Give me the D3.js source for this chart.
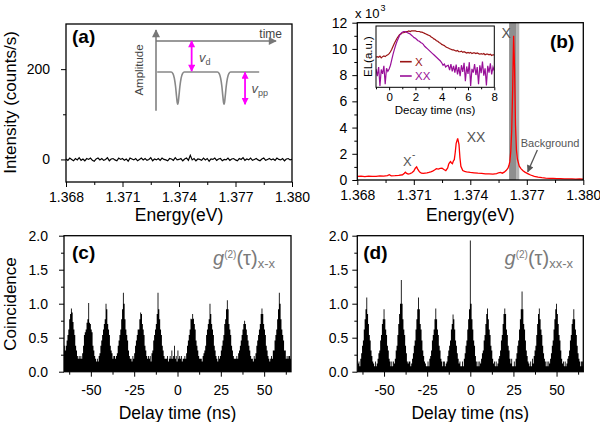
<!DOCTYPE html>
<html><head><meta charset="utf-8">
<script src="https://cdn.jsdelivr.net/npm/d3@7"></script>
<style>
html,body{margin:0;padding:0;background:#fff;}
svg{display:block;}
</style></head><body>
<svg id="chart" width="600" height="422"></svg>
<script>
// ---------------- DATA ----------------
const energyTicks = [1.368, 1.371, 1.374, 1.377, 1.380];
const energyMinor = [1.3695, 1.3725, 1.3755, 1.3785];
const aYTicks = [0, 200];
const aYMinor = [100];
const aNoiseStart = 1.368, aNoiseStep = 0.0001;
const aNoise = [
 1,-2,3,0,-3,2,-1,4,-2,1,
 -3,2,0,3,-2,-4,1,3,-1,2,
 -2,0,4,-3,1,2,-1,-3,3,0,
 2,-2,1,-4,3,1,-1,2,-3,0,
 3,-1,2,-2,0,4,-3,1,-1,2,
 -2,3,0,-1,-3,2,1,-2,4,-1,
 0,2,-3,1,3,-2,9,-1,2,-3,
 1,0,-2,3,-1,2,-4,1,0,3,
 -2,1,2,-3,0,-1,3,-2,1,2,
 -1,-3,2,0,4,-2,1,-1,3,-2,
 0,2,-1,-3,1,3,-2,0,2,-1,
 1,-2,3,0,-1,2,-3,1,2,-1,
 0];
// schematic pulse (inset of a)
const schemT = [0.1,1.26,1.41,1.53,1.63,1.71,1.77,1.81,1.85,1.91,1.99,2.09,2.21,2.36,5.12,5.27,5.39,5.49,5.57,5.63,5.67,5.71,5.77,5.85,5.95,6.07,6.22,8.6];
const schemA = [0.48,0.48,0.46,0.40,0.30,0.18,0.10,0.08,0.10,0.18,0.30,0.40,0.46,0.48,0.48,0.46,0.40,0.30,0.18,0.10,0.08,0.10,0.18,0.30,0.40,0.46,0.48,0.48];
const schemTimeAxisLevel = 0.864;
const vdArrow = [2.97, 0.864, 0.49];
const vppArrow = [7.42, 0.475, 0.08];

// spectrum (b), intensity in 10^3 counts/s
const specE = [
 1.3680,1.3682,1.3684,1.3686,1.3688,1.3690,1.3692,1.3694,1.3696,1.3697,
 1.3698,1.3700,1.3702,1.3704,1.3705,1.37055,1.3706,1.3707,1.3708,1.3709,
 1.3710,1.37108,1.37115,1.3712,1.3713,1.3714,1.3715,1.3716,1.3717,1.3718,
 1.3719,1.3720,1.3721,1.3722,1.3723,1.3724,1.3725,1.3726,1.3727,1.3728,
 1.37285,1.3729,1.37295,1.3730,1.37305,1.3731,1.37315,1.3732,1.37325,1.37333,
 1.3734,1.37345,1.3735,1.3736,1.3737,1.3738,1.3740,1.3742,1.3744,1.3746,
 1.3748,1.3750,1.3752,1.3754,1.3755,1.3756,1.3757,1.3758,1.3759,1.3760,
 1.37605,1.3761,1.37615,1.3762,1.37625,1.3763,1.37635,1.3764,1.37645,1.3765,
 1.3766,1.3767,1.3768,1.3769,1.3770,1.3771,1.3772,1.3774,1.3776,1.3778,
 1.3780,1.3782,1.3784,1.3786,1.3788,1.3790,1.3792,1.3794,1.3796,1.3798,1.3800];
const specI = [
 0.27,0.30,0.26,0.29,0.28,0.27,0.31,0.29,0.33,0.40,
 0.32,0.33,0.36,0.40,0.52,0.60,0.52,0.45,0.48,0.55,
 0.68,0.90,1.00,0.85,0.62,0.52,0.50,0.53,0.55,0.58,
 0.62,0.68,0.76,0.86,0.83,0.88,0.90,0.80,0.72,0.92,
 1.20,1.32,1.40,1.30,1.25,1.45,1.55,2.10,2.80,3.18,
 2.70,1.70,1.05,0.72,0.66,0.62,0.58,0.55,0.52,0.50,
 0.47,0.46,0.45,0.48,0.55,0.58,0.52,0.60,0.72,0.90,
 1.10,1.40,2.20,3.80,7.00,11.0,8.50,4.20,2.30,1.60,
 1.05,0.85,0.70,0.60,0.52,0.45,0.38,0.28,0.22,0.18,
 0.15,0.13,0.12,0.10,0.11,0.09,0.08,0.09,0.07,0.08,0.06];
const bYTicks = [0, 2, 4, 6, 8, 10, 12];
const bYMinor = [1, 3, 5, 7, 9, 11];
const bandDark = [1.37606, 1.37646];
const bandLight = [1.37646, 1.37660];
const specLabels = [
 {text: "X", e: 1.37566, v: 10.8},
 {text: "XX", e: 1.37381, v: 2.9},
 {text: "X", e: 1.37043, v: 1.07},
 {text: "Background", e: 1.37668, v: 2.49}
];
const bgArrow = [[1.37756, 2.29], [1.37705, 0.63]];

// decay curves (inset of b), normalised EL
const decayStart = -1.0, decayStep = 0.1;
const decayX = [
 .49,.50,.49,.51,.48,.50,.51,.50,.52,.53,
 .55,.58,.62,.67,.72,.76,.80,.83,.86,.87,
 .89,.89,.90,.91,.91,.92,.91,.92,.92,.92,
 .92,.91,.91,.91,.90,.90,.89,.88,.87,.86,
 .85,.84,.82,.81,.79,.78,.76,.75,.73,.72,
 .70,.69,.68,.66,.65,.64,.63,.62,.61,.61,
 .60,.59,.60,.58,.58,.59,.57,.58,.57,.56,
 .57,.56,.57,.55,.56,.56,.55,.56,.55,.54,
 .55,.54,.55,.53,.54,.54,.53,.54,.52,.53,.53];
const decayXX = [
 .30,.18,.33,.02,.29,.22,.35,.05,.31,.26,
 .30,.36,.45,.54,.62,.69,.75,.80,.85,.88,
 .90,.91,.91,.90,.89,.88,.87,.85,.83,.81,
 .80,.78,.76,.75,.73,.72,.70,.67,.65,.63,
 .61,.59,.57,.55,.53,.51,.49,.47,.45,.43,
 .40,.36,.38,.33,.35,.36,.28,.38,.26,.35,
 .24,.37,.21,.33,.18,.36,.25,.40,.10,.34,
 .22,.41,.02,.30,.24,.38,.20,.33,.05,.36,
 .23,.42,.19,.31,.03,.35,.24,.39,.21,.33,.27];
const decayTicks = [0, 2, 4, 6, 8];
const decayMinor = [-1, 1, 3, 5, 7];
const decayLegend = ["X", "XX"];

// coincidence histograms (c) and (d), values x100, 0.5 ns bins
const delayTicks = [-50, -25, 0, 25, 50];
const delayMinor = [-62.5, -37.5, -12.5, 12.5, 37.5, 62.5];
const coinTicks = [0, 0.5, 1.0, 1.5, 2.0];
const coinMinor = [0.25, 0.75, 1.25, 1.75];
const histBin = 0.5;
const histCStart = -66.5;
const histC = [
 27,31,38,31,38,46,54,62,77,85,93,87,73,62,54,38,31,23,19,23,
 19,23,19,27,38,54,58,62,72,77,101,72,70,62,58,38,31,23,19,15,
 19,15,23,27,38,46,54,62,70,77,100,92,70,62,54,38,31,27,19,23,
 23,19,23,27,38,46,54,62,77,92,116,100,77,62,54,46,31,23,19,19,
 15,23,19,27,38,46,54,62,62,77,87,85,70,62,54,38,31,23,19,23,
 19,23,15,27,31,46,54,62,70,85,116,92,77,62,54,38,31,23,19,19,
 19,23,15,19,23,19,31,19,23,38,19,23,15,31,19,23,19,23,15,19,
 19,23,19,27,38,46,54,62,78,77,85,78,70,62,46,38,31,23,19,19,
 19,15,23,27,31,38,54,62,70,77,100,85,70,62,54,38,31,23,19,15,
 23,19,23,31,38,46,54,70,77,92,105,92,70,62,54,38,31,23,19,19,
 19,23,19,27,31,38,46,54,62,70,75,70,62,54,46,38,31,23,19,19,
 15,23,19,27,38,46,54,62,70,85,93,85,70,62,54,38,31,23,19,15,
 19,23,19,31,31,46,54,62,77,92,116,100,77,62,54,46,31,31,19,23,
 19,23,23,19];
const histDStart = -65.25;
const histD = [
 12,15,8,19,27,38,46,62,77,92,109,85,70,54,46,31,23,15,12,8,
 15,8,12,19,27,31,46,54,70,77,92,77,62,54,38,31,19,15,8,15,
 8,15,12,19,31,38,54,70,85,100,135,100,77,62,54,38,27,15,12,15,
 15,8,12,19,27,38,46,62,77,92,109,92,70,62,46,31,23,15,12,8,
 8,15,8,19,23,31,46,54,62,77,93,77,62,54,38,31,19,15,8,15,
 15,8,12,15,23,31,38,46,62,70,84,77,62,46,38,27,19,12,15,8,
 8,15,8,19,27,38,46,62,77,92,193,100,77,62,46,38,23,15,8,15,
 8,15,12,19,27,31,46,54,70,85,93,77,62,54,38,31,19,12,15,8,
 15,8,12,19,23,31,46,54,70,85,93,85,62,54,38,31,19,12,19,8,
 8,15,8,19,27,38,46,62,77,92,118,92,70,62,46,31,23,15,12,8,
 15,8,19,12,23,31,38,54,70,85,93,77,62,54,38,27,19,15,8,15,
 8,15,12,19,27,38,46,62,77,92,100,85,70,54,46,31,19,12,15,8,
 15,8,12,19,23,31,46,54,70,77,92,77,62,54,38,27,19,15,8,15,
 15,8];

// ---------------- DRAWING ----------------
const FONT = 'Arial, "Liberation Sans", sans-serif';
const svg = d3.select("#chart").attr("font-family", FONT);
const defs = svg.append("defs");
function marker(id, color, w, h) {
  defs.append("marker").attr("id", id).attr("viewBox", "0 0 10 10")
    .attr("refX", 9).attr("refY", 5).attr("markerWidth", w).attr("markerHeight", h)
    .attr("markerUnits", "userSpaceOnUse").attr("orient", "auto-start-reverse")
    .append("path").attr("d", "M0,0L10,5L0,10Z").attr("fill", color);
}
marker("mag", "#ff00ff", 8, 7);
marker("gry", "#777", 9, 8);
marker("bga", "#555", 8, 7);

const P = {
  a: {l: 66, r: 292, t: 24, b: 182},
  b: {l: 357.3, r: 583.3, t: 22.7, b: 180},
  c: {l: 64, r: 291, t: 235.7, b: 371.7},
  d: {l: 357.3, r: 583.3, t: 235.7, b: 371.7},
  ins: {l: 376, r: 494.3, t: 26, b: 87.3}
};
function clip(id, p) {
  defs.append("clipPath").attr("id", id).append("rect")
    .attr("x", p.l).attr("y", p.t).attr("width", p.r - p.l).attr("height", p.b - p.t);
  return `url(#${id})`;
}
function frame(p, sw) {
  svg.append("rect").attr("x", p.l).attr("y", p.t).attr("width", p.r - p.l).attr("height", p.b - p.t)
    .attr("fill", "none").attr("stroke", "#000").attr("stroke-width", sw || 1.3);
}
function axes(p, xs, ys, o) {
  const fs = o.fs || 14;
  const xb = svg.append("g").attr("transform", `translate(0,${p.b})`);
  xb.append("g").call(d3.axisBottom(xs).tickValues(o.xMin).tickSize(o.minS || 3).tickFormat(""));
  xb.append("g").call(d3.axisBottom(xs).tickValues(o.xMaj).tickSize(o.majS || 5).tickPadding(o.xPad).tickFormat(o.xFmt));
  if (o.yMaj) {
    const yl = svg.append("g").attr("transform", `translate(${p.l},0)`);
    yl.append("g").call(d3.axisLeft(ys).tickValues(o.yMin).tickSize(3).tickFormat(""));
    yl.append("g").call(d3.axisLeft(ys).tickValues(o.yMaj).tickSize(5).tickPadding(o.yPad).tickFormat(o.yFmt));
    yl.selectAll("g").attr("font-size", fs).attr("font-family", FONT);
  }
  xb.selectAll("g").attr("font-size", fs).attr("font-family", FONT);
  svg.selectAll(".domain").remove();
  svg.selectAll(".tick text").attr("fill", "#000");
}
const fmtPlain = d => String(d);

// ===== Panel (a) =====
const xa = d3.scaleLinear().domain([1.368, 1.380]).range([P.a.l, P.a.r]);
const ya = d3.scaleLinear().domain([-50, 300]).range([P.a.b, P.a.t]);
svg.append("path").attr("clip-path", clip("ca", P.a))
  .datum(aNoise.map((v, i) => [aNoiseStart + i * aNoiseStep, v]))
  .attr("fill", "none").attr("stroke", "#000").attr("stroke-width", 1.2)
  .attr("d", d3.line().x(d => xa(d[0])).y(d => ya(d[1])));
axes(P.a, xa, ya, {xMaj: energyTicks, xMin: energyMinor, xPad: 5, xFmt: d3.format(".3f"),
  yMaj: aYTicks, yMin: aYMinor, yPad: 11, yFmt: fmtPlain});
frame(P.a);

// schematic inset
const sx = d3.scaleLinear().domain([0, 10]).range([156, 276]);
const sy = d3.scaleLinear().domain([0, 1]).range([110.7, 30]);
svg.append("line").attr("x1", sx(0)).attr("x2", sx(0)).attr("y1", sy(0)).attr("y2", sy(1))
  .attr("stroke", "#777").attr("stroke-width", 1.5).attr("marker-end", "url(#gry)");
svg.append("line").attr("x1", sx(0)).attr("x2", sx(10)).attr("y1", sy(schemTimeAxisLevel)).attr("y2", sy(schemTimeAxisLevel))
  .attr("stroke", "#777").attr("stroke-width", 1.5).attr("marker-end", "url(#gry)");
svg.append("path").datum(schemT.map((t, i) => [t, schemA[i]]))
  .attr("fill", "none").attr("stroke", "#888").attr("stroke-width", 1.6)
  .attr("d", d3.line().x(d => sx(d[0])).y(d => sy(d[1])).curve(d3.curveMonotoneX));
[vdArrow, vppArrow].forEach(a => {
  svg.append("line").attr("x1", sx(a[0])).attr("x2", sx(a[0])).attr("y1", sy(a[1])).attr("y2", sy(a[2]))
    .attr("stroke", "#ff00ff").attr("stroke-width", 1.8)
    .attr("marker-start", "url(#mag)").attr("marker-end", "url(#mag)");
});
svg.append("text").attr("x", 282).attr("y", 37.5).attr("text-anchor", "end")
  .attr("font-size", 12).attr("fill", "#444").text("time");
svg.append("text").attr("transform", "translate(143,70) rotate(-90)").attr("text-anchor", "middle")
  .attr("font-size", 11.5).attr("fill", "#444").text("Amplitude");
const vd = svg.append("text").attr("x", 199).attr("y", 61.5).attr("font-size", 13).attr("fill", "#555");
vd.append("tspan").attr("font-style", "italic").text("v");
vd.append("tspan").attr("font-size", 9).attr("dy", 3).text("d");
const vpp = svg.append("text").attr("x", 251.5).attr("y", 93).attr("font-size", 13).attr("fill", "#555");
vpp.append("tspan").attr("font-style", "italic").text("v");
vpp.append("tspan").attr("font-size", 9).attr("dy", 3).text("pp");

svg.append("text").attr("x", 72).attr("y", 43).attr("font-size", 19).attr("font-weight", "bold").text("(a)");

// ===== Panel (b) =====
const xb = d3.scaleLinear().domain([1.368, 1.380]).range([P.b.l, P.b.r]);
const yb = d3.scaleLinear().domain([0, 12]).range([P.b.b, P.b.t]);
const cb = clip("cb", P.b);
svg.append("rect").attr("clip-path", cb).attr("x", xb(bandDark[0])).attr("width", xb(bandDark[1]) - xb(bandDark[0]))
  .attr("y", P.b.t).attr("height", P.b.b - P.b.t).attr("fill", "#8e8e8e");
svg.append("rect").attr("clip-path", cb).attr("x", xb(bandLight[0])).attr("width", xb(bandLight[1]) - xb(bandLight[0]))
  .attr("y", P.b.t).attr("height", P.b.b - P.b.t).attr("fill", "#b4b4b4");
svg.append("path").attr("clip-path", cb).datum(specE.map((e, i) => [e, specI[i]]))
  .attr("fill", "none").attr("stroke", "#ff0000").attr("stroke-width", 1.3)
  .attr("d", d3.line().x(d => xb(d[0])).y(d => yb(d[1])));
axes(P.b, xb, yb, {xMaj: energyTicks, xMin: energyMinor, xPad: 5, xFmt: d3.format(".3f"),
  yMaj: bYTicks, yMin: bYMinor, yPad: 5, yFmt: fmtPlain});
frame(P.b);

// annotations
const labFs = [14, 14, 13, 11];
specLabels.forEach((L, i) => {
  svg.append("text").attr("x", xb(L.e)).attr("y", yb(L.v)).attr("font-size", labFs[i])
    .attr("fill", "#555").text(L.text);
});
svg.append("text").attr("x", xb(1.3709)).attr("y", yb(1.65)).attr("font-size", 10).attr("fill", "#555").text("-");
svg.append("line").attr("x1", xb(bgArrow[0][0])).attr("y1", yb(bgArrow[0][1]))
  .attr("x2", xb(bgArrow[1][0])).attr("y2", yb(bgArrow[1][1]))
  .attr("stroke", "#555").attr("stroke-width", 1.3).attr("marker-end", "url(#bga)");
const mult = svg.append("text").attr("x", 355).attr("y", 17.5).attr("font-size", 13).attr("fill", "#000");
mult.append("tspan").text("x 10");
mult.append("tspan").attr("font-size", 9).attr("dy", -7).attr("dx", 1).text("3");
svg.append("text").attr("x", 550).attr("y", 48).attr("font-size", 19).attr("font-weight", "bold").text("(b)");

// inset of (b)
const xi = d3.scaleLinear().domain([-1, 8]).range([P.ins.l, P.ins.r]);
const yi = d3.scaleLinear().domain([0, 1]).range([P.ins.b, P.ins.t]);
svg.append("rect").attr("x", P.ins.l).attr("y", P.ins.t).attr("width", P.ins.r - P.ins.l)
  .attr("height", P.ins.b - P.ins.t).attr("fill", "#fff");
const ci = clip("ci", P.ins);
const decayColors = ["#9a1414", "#990f99"];
[decayX, decayXX].forEach((arr, k) => {
  svg.append("path").attr("clip-path", ci).datum(arr.map((v, i) => [decayStart + i * decayStep, v]))
    .attr("fill", "none").attr("stroke", decayColors[k]).attr("stroke-width", 1.2)
    .attr("d", d3.line().x(d => xi(d[0])).y(d => yi(d[1])));
});
axes(P.ins, xi, yi, {xMaj: decayTicks, xMin: decayMinor, xPad: 3, majS: 3, minS: 2, xFmt: fmtPlain, fs: 11.5});
frame(P.ins, 1);
svg.append("text").attr("x", 435).attr("y", 113.5).attr("text-anchor", "middle").attr("font-size", 11.5).text("Decay time (ns)");
svg.append("text").attr("transform", "translate(372,56.5) rotate(-90)").attr("text-anchor", "middle")
  .attr("font-size", 11.5).text("EL(a.u.)");
decayLegend.forEach((name, k) => {
  const yy = 61.7 + k * 14.3;
  svg.append("line").attr("x1", 400).attr("x2", 411.7).attr("y1", yy).attr("y2", yy)
    .attr("stroke", decayColors[k]).attr("stroke-width", 1.6);
  svg.append("text").attr("x", 415).attr("y", yy + 4.2).attr("font-size", 11.5).attr("fill", decayColors[k]).text(name);
});

// ===== Panels (c) and (d) =====
function histPanel(p, id, start, vals, letter, sub, subEnd) {
  const xs = d3.scaleLinear().domain([-65.5, 65.5]).range([p.l, p.r]);
  const ys = d3.scaleLinear().domain([0, 2]).range([p.b, p.t]);
  const pts = vals.map((v, i) => [start + i * histBin, v / 100]);
  pts.push([start + vals.length * histBin, vals[vals.length - 1] / 100]);
  svg.append("path").attr("clip-path", clip(id, p)).datum(pts)
    .attr("fill", "#000").attr("stroke", "none")
    .attr("d", d3.area().x(d => xs(d[0])).y0(ys(0)).y1(d => ys(d[1])).curve(d3.curveStepAfter));
  axes(p, xs, ys, {xMaj: delayTicks, xMin: delayMinor, xPad: 8, xFmt: fmtPlain,
    yMaj: coinTicks, yMin: coinMinor, yPad: id === "cc" ? 11 : 4, yFmt: d3.format(".1f")});
  frame(p);
  svg.append("text").attr("x", p.l + (id === "cc" ? 8 : 6)).attr("y", 259).attr("font-size", 19)
    .attr("font-weight", "bold").text(letter);
  const g = svg.append("text").attr("x", subEnd).attr("y", 265).attr("text-anchor", "end")
    .attr("font-size", 20).attr("fill", "#7a7a7a");
  g.append("tspan").attr("font-style", "italic").text("g");
  g.append("tspan").attr("font-size", 10).attr("dy", -7).text("(2)");
  g.append("tspan").attr("dy", 7).text("(τ)");
  g.append("tspan").attr("font-size", 13).attr("dy", 3).text(sub);
  svg.append("text").attr("x", (p.l + p.r) / 2).attr("y", 419).attr("text-anchor", "middle")
    .attr("font-size", 17.5).text("Delay time (ns)");
}
histPanel(P.c, "cc", histCStart, histC, "(c)", "x-x", 275);
histPanel(P.d, "cd", histDStart, histD, "(d)", "xx-x", 573);

// ===== Axis titles =====
svg.append("text").attr("x", (P.a.l + P.a.r) / 2).attr("y", 220.5).attr("text-anchor", "middle")
  .attr("font-size", 17.5).text("Energy(eV)");
svg.append("text").attr("x", (P.b.l + P.b.r) / 2).attr("y", 220.5).attr("text-anchor", "middle")
  .attr("font-size", 17.5).text("Energy(eV)");
svg.append("text").attr("transform", "translate(16,102.5) rotate(-90)").attr("text-anchor", "middle")
  .attr("font-size", 17).text("Intensity (counts/s)");
svg.append("text").attr("transform", "translate(16,304) rotate(-90)").attr("text-anchor", "middle")
  .attr("font-size", 17).text("Coincidence");
</script>
</body></html>
